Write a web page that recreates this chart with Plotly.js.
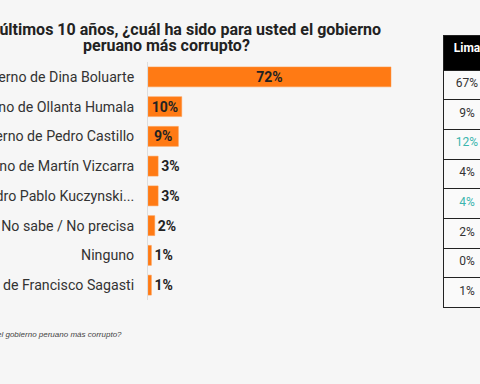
<!DOCTYPE html>
<html><head><meta charset="utf-8">
<script src="https://cdn.plot.ly/plotly-3.0.1.min.js"></script>
<style>html,body{margin:0;padding:0;overflow:hidden;background:#f6f6f6;width:480px;height:384px}#chart{width:520px;height:384px}</style>
</head><body><div id="chart"></div>
<script>
const categories = ["Gobierno de Dina Boluarte","Gobierno de Ollanta Humala","Gobierno de Pedro Castillo","Gobierno de Martín Vizcarra","Gobierno de Pedro Pablo Kuczynski...","No sabe / No precisa","Ninguno","Gobierno de Francisco Sagasti"];
const totalValues = [72,10,9,3,3,2,1,1];
const limaValues = ["67%","9%","12%","4%","4%","2%","0%","1%"];
const limaColors = ["#333","#333","#3bb5ae","#333","#3bb5ae","#333","#333","#333"];
const title1 = "En los últimos 10 años, ¿cuál ha sido para usted el gobierno";
const title2 = "peruano más corrupto?";
const tableHeader = "Lima";
const footnote = "el gobierno peruano más corrupto?";

const W = 520, H = 384;
const tf = {family: 'Roboto', size: 14, color: '#222', weight: 'bold'};
const bar = {
  type: 'bar', orientation: 'h', y: categories, x: totalValues,
  marker: {color: '#ff7a14', line: {color: '#ff9a4a', width: 0.5}},
  texttemplate: '%{x}%', textposition: 'auto', insidetextanchor: 'middle', constraintext: 'none', textangle: 0,
  textfont: tf, insidetextfont: tf, outsidetextfont: tf,
  cliponaxis: false, hoverinfo: 'none'
};
const table = {
  type: 'table',
  domain: {x: [443/W, 491/W], y: [1-312/H, 1-35/H]},
  header: {values: [tableHeader], fill: {color: '#000'}, height: 35, align: 'center',
    font: {family: 'Roboto', size: 12, color: '#fff', weight: 'bold'}, line: {color: '#222', width: 1}},
  cells: {values: [limaValues], fill: {color: '#fafafa'}, height: 29.7, align: 'center',
    font: {family: 'Roboto', size: 12, color: [limaColors]}, line: {color: '#222', width: 1}}
};
const layout = {
  width: W, height: H, margin: {l: 0, r: 0, t: 0, b: 0},
  paper_bgcolor: '#f6f6f6', plot_bgcolor: 'rgba(0,0,0,0)',
  showlegend: false, bargap: 0.33,
  xaxis: {domain: [148/W, 420/W], range: [0, 72*(420-148)/(391-148)], visible: false, fixedrange: true},
  yaxis: {domain: [1-300/H, 1-62/H], autorange: 'reversed', type: 'category',
    showline: true, linecolor: '#dddddd', linewidth: 1, showgrid: false, ticks: '',
    ticklabelstandoff: 10, tickfont: {family: 'Roboto', size: 14.2, color: '#333'}, automargin: false},
  annotations: [
    {xref: 'paper', yref: 'paper', x: 166/W, y: 1-29/H, xanchor: 'center', yanchor: 'middle', showarrow: false,
     text: title1, font: {family: 'Roboto', size: 16, color: '#222', weight: 'bold'}},
    {xref: 'paper', yref: 'paper', x: 166/W, y: 1-45/H, xanchor: 'center', yanchor: 'middle', showarrow: false,
     text: title2, font: {family: 'Roboto', size: 16, color: '#222', weight: 'bold'}},
    {xref: 'paper', yref: 'paper', x: 124/W, y: 1-334/H, xanchor: 'right', yanchor: 'middle', showarrow: false,
     text: '<i>' + footnote + '</i>', font: {family: 'Liberation Sans', size: 8, color: '#444'}}
  ]
};
Plotly.newPlot('chart', [bar, table], layout, {displayModeBar: false, staticPlot: true});
</script></body></html>
